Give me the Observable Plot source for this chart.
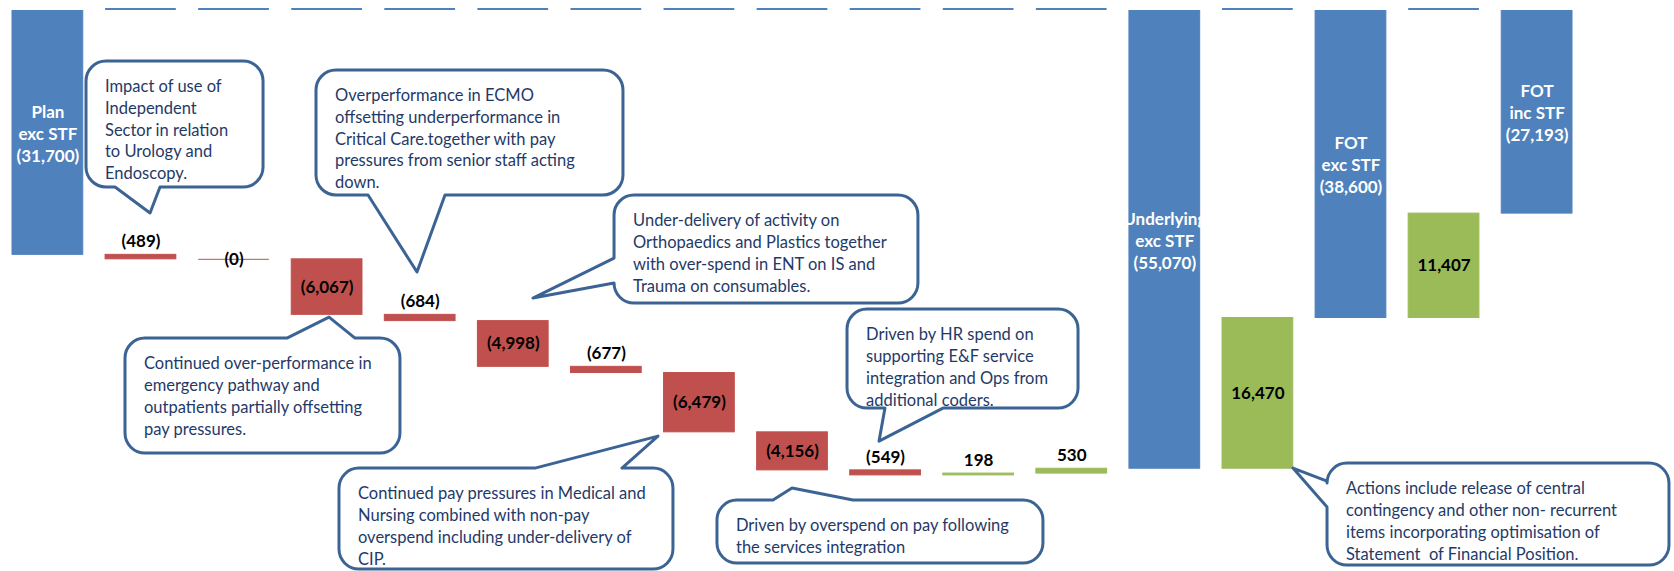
<!DOCTYPE html>
<html><head><meta charset="utf-8">
<script src="https://cdn.jsdelivr.net/npm/d3@7"></script>
<script src="https://cdn.jsdelivr.net/npm/@observablehq/plot@0.6"></script>
<style>html,body{margin:0;padding:0;background:#fff;} #chart{width:1674px;height:571px;overflow:hidden}</style>
</head><body><div id="chart"></div>
<script>
// ---- data ----
const categories = ["Plan exc STF","Independent Sector","Other A","Emergency & outpatients","ECMO & Critical Care","Orthopaedics & Plastics","Other B","Medical & Nursing","Services integration","HR & coders","Other C","Other D","Underlying exc STF","Actions","FOT exc STF","STF","FOT inc STF"];
const kinds = ["total","change","change","change","change","change","change","change","change","change","change","change","total","change","total","change","total"];
const values = [-31700,-489,0,-6067,-684,-4998,-677,-6479,-4156,-549,198,530,-55070,16470,-38600,11407,-27193];
const valueLabels = ["Plan\nexc STF\n(31,700)","(489)","(0)","(6,067)","(684)","(4,998)","(677)","(6,479)","(4,156)","(549)","198","530","Underlying\nexc STF\n(55,070)","16,470","FOT\nexc STF\n(38,600)","11,407","FOT\ninc STF\n(27,193)"];

const calloutTexts = [
  ["Impact of use of","Independent","Sector in relation","to Urology and","Endoscopy."],
  ["Overperformance in ECMO","offsetting underperformance in","Critical Care.together with pay","pressures from senior staff acting","down."],
  ["Under-delivery of activity on","Orthopaedics and Plastics together","with over-spend in ENT on IS and","Trauma on consumables."],
  ["Continued over-performance in","emergency pathway and","outpatients partially offsetting","pay pressures."],
  ["Continued pay pressures in Medical and","Nursing combined with non-pay","overspend including under-delivery of","CIP."],
  ["Driven by HR spend on","supporting E&F service","integration and Ops from","additional coders."],
  ["Driven by overspend on pay following","the services integration"],
  ["Actions include release of central","contingency and other non- recurrent","items incorporating optimisation of","Statement  of Financial Position."]
];

// ---- layout (column units / value units) ----
const yTop = 5000, yBottom = 66300;
const calloutLayout = [
  {box:[0.795,10574,2.697,24344], tail:{side:"bottom",a:1.107,b:1.590,tip:[1.483,27186]}},
  {box:[3.266,11557,6.564,25219], tail:{side:"bottom",a:3.825,b:4.652,tip:[4.351,33634]}},
  {box:[6.468,25219,9.733,37022], tail:{side:"left",a:32104,b:34836,tip:[5.597,36476]}},
  {box:[1.214,40847,4.168,53415], tail:{side:"top",a:2.954,b:3.685,tip:[3.406,38552]}},
  {box:[3.513,55055,7.101,66093], tail:{side:"top",a:5.619,b:6.553,tip:[6.940,51558]}},
  {box:[8.971,37678,11.453,48497], tail:{side:"bottom",a:9.379,b:10.002,tip:[9.315,52104]}},
  {box:[7.574,58552,11.076,65437], tail:{side:"top",a:8.176,b:9.035,tip:[8.380,57241]}},
  {box:[14.128,54508,17.802,65656], tail:{side:"left",a:56476,b:59317,tip:[13.762,55055]}}
];

const BLUE = "#4F81BD", RED = "#C0504D", GREEN = "#9BBB59";
const FONT = "Lato, 'Open Sans', sans-serif";

// ---- derived rows ----
let depth = 0;
const rows = categories.map((cat, i) => {
  const v = values[i];
  let top, bottom;
  if (kinds[i] === "total") { top = 0; bottom = -v; depth = -v; }
  else { const next = depth - v; top = Math.min(depth, next); bottom = Math.max(depth, next); depth = next; }
  const color = kinds[i] === "total" ? BLUE : (v > 0 ? GREEN : RED);
  return {cat, kind: kinds[i], value: v, label: valueLabels[i], top, bottom, color,
          mid: (Math.max(top, yTop) + bottom) / 2};
});
const changes = rows.filter(d => d.kind === "change");
const totals = rows.filter(d => d.kind === "total");
const small = d => d.value !== 0 && Math.abs(d.value) < 1000;

function bubblePath(L, T, R, B, r, tail, X, Y) {
  const p = d3.path();
  p.moveTo(L + r, T);
  if (tail.side === "top") {
    p.lineTo(X(tail.a), T); p.lineTo(X(tail.tip[0]), Y(tail.tip[1])); p.lineTo(X(tail.b), T);
  }
  p.lineTo(R - r, T); p.arcTo(R, T, R, T + r, r);
  p.lineTo(R, B - r); p.arcTo(R, B, R - r, B, r);
  if (tail.side === "bottom") {
    p.lineTo(X(tail.b), B); p.lineTo(X(tail.tip[0]), Y(tail.tip[1])); p.lineTo(X(tail.a), B);
  }
  p.lineTo(L + r, B); p.arcTo(L, B, L, B - r, r);
  if (tail.side === "left") {
    p.lineTo(L, Y(tail.b)); p.lineTo(X(tail.tip[0]), Y(tail.tip[1])); p.lineTo(L, Y(tail.a));
  }
  p.lineTo(L, T + r); p.arcTo(L, T, L + r, T, r);
  p.closePath();
  return p.toString();
}

function callouts(index, scales) {
  const x = scales.x, y = scales.y;
  const step = x(categories[1]) - x(categories[0]);
  const X = c => x(categories[0]) + c * step;
  const Y = v => y(v);
  const g = d3.create("svg:g");
  calloutLayout.forEach((co, k) => {
    const [c0, v0, c1, v1] = co.box;
    const L = X(c0), T = Y(v0), R = X(c1), B = Y(v1);
    g.append("path").attr("d", bubblePath(L, T, R, B, 20, co.tail, X, Y))
      .attr("fill", "#fff").attr("stroke", "#3B6494").attr("stroke-width", 3).attr("stroke-linejoin", "round");
    const t = g.append("text").attr("font-family", FONT).attr("font-size", 16.5)
      .attr("text-anchor", "start").attr("fill", "#1F3A68");
    calloutTexts[k].forEach((line, i) => {
      t.append("tspan").attr("x", L + 19).attr("y", T + 25 + i * 21.9).attr("dy", "0.35em")
        .attr("xml:space", "preserve").text(line);
    });
  });
  return g.node();
}

const chart = Plot.plot({
  width: 1674, height: 571,
  marginTop: 10, marginBottom: 0, marginLeft: 0, marginRight: 90,
  x: {domain: categories, paddingInner: 0.24, paddingOuter: 0.129, round: false, axis: null},
  y: {domain: [yTop, yBottom], reverse: true, axis: null},
  style: {fontFamily: FONT, background: "#fff", overflow: "visible"},
  marks: [
    Plot.tickY(changes, {x: "cat", y: () => yTop, dy: -1.5, stroke: BLUE, strokeWidth: 2}),
    Plot.barY(rows, {x: "cat", y1: "top", y2: "bottom", fill: "color", stroke: "color", strokeWidth: 1, clip: true}),
    Plot.tickY(changes.filter(d => d.value === 0), {x: "cat", y: "top", stroke: RED, strokeWidth: 1}),
    Plot.text(totals, {x: "cat", y: "mid", text: "label", fill: "#fff", fontWeight: "bold", fontSize: 17, lineHeight: 1.3}),
    Plot.text(changes.filter(d => !small(d)), {x: "cat", y: "mid", text: "label", fill: "#000", fontWeight: "bold", fontSize: 17}),
    Plot.text(changes.filter(small), {x: "cat", y: "top", dy: -13, text: "label", fill: "#000", fontWeight: "bold", fontSize: 17}),
    callouts
  ]
});
document.getElementById("chart").appendChild(chart);
</script></body></html>
